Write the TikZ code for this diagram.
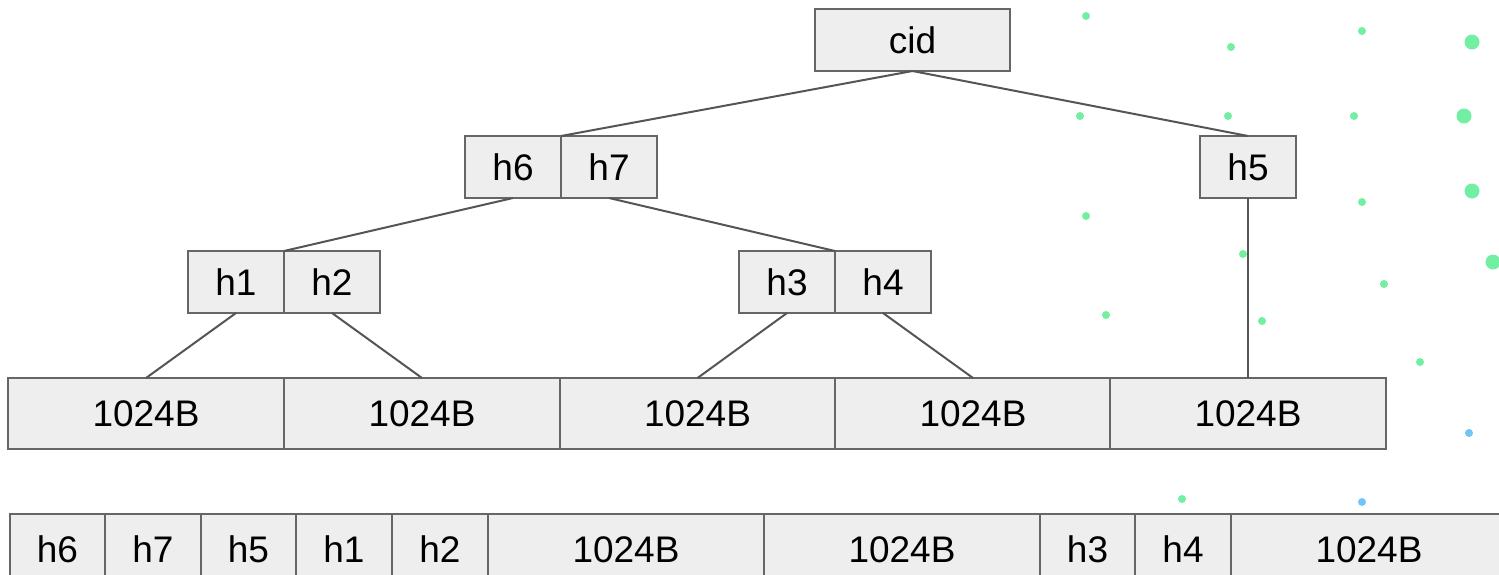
\documentclass[tikz,border=0pt]{standalone}
\usepackage{fontspec}
\setmainfont{Liberation Sans}
\definecolor{boxfill}{HTML}{EEEEEE}
\definecolor{boxline}{HTML}{666666}
\definecolor{conn}{HTML}{555555}
\definecolor{dotg}{HTML}{72EFA2}
\definecolor{dotb}{HTML}{72C4F4}
\tikzset{
  box/.style={draw=boxline, fill=boxfill, line width=2pt, rectangle, inner sep=0pt, outer sep=0pt,
    minimum height=62pt, font=\fontsize{37}{44}\selectfont},
  hbox/.style={box, minimum width=96pt},
  dbox/.style={box, minimum width=276pt, minimum height=71pt},
  rbox/.style={box, minimum height=71pt},
  conn/.style={draw=conn, line width=2pt},
}
\begin{document}
\begin{tikzpicture}[x=1pt,y=-1pt]
\useasboundingbox (0,0) rectangle (1499,574);
\clip (0,0) rectangle (1499,574);
% dots
\foreach \px/\py in {1086/16,1231/47,1362/31,1080/116,1228/116,1354/116,1086/216,1362/202,1243/254,1384/284,1106/315,1262/321,1420/362,1182/499}
  \fill[dotg] (\px,\py) circle[radius=4pt];
\foreach \px/\py in {1472/42,1464/116,1472/191,1493/262}
  \fill[dotg] (\px,\py) circle[radius=7.5pt];
\foreach \px/\py in {1469/433,1362/502}
  \fill[dotb] (\px,\py) circle[radius=4pt];
% tree
\node[box, minimum width=195pt] (cid) at (912.5,40) {cid};
\node[hbox] (h6) at (513,167) {h6};
\node[hbox] (h7) at (609,167) {h7};
\node[hbox] (h5) at (1248,167) {h5};
\node[hbox] (h1) at (236,282) {h1};
\node[hbox] (h2) at (332,282) {h2};
\node[hbox] (h3) at (787,282) {h3};
\node[hbox] (h4) at (883,282) {h4};
\node[dbox] (b1) at (146,413.5) {1024B};
\node[dbox] (b2) at (422,413.5) {1024B};
\node[dbox] (b3) at (697.5,413.5) {1024B};
\node[dbox] (b4) at (973,413.5) {1024B};
\node[dbox, minimum width=276pt] (b5) at (1248,413.5) {1024B};
% connectors
\draw[conn] (cid.south) -- (h6.north east);
\draw[conn] (cid.south) -- (h5.north);
\draw[conn] (h6.south) -- (h1.north east);
\draw[conn] (h7.south) -- (h3.north east);
\draw[conn] (h1.south) -- (b1.north);
\draw[conn] (h2.south) -- (b2.north);
\draw[conn] (h3.south) -- (b3.north);
\draw[conn] (h4.south) -- (b4.north);
\draw[conn] (h5.south) -- (b5.north);
% bottom serialized row
\node[rbox, minimum width=95pt] (r1) at (57.5,549.5) {h6};
\node[rbox, minimum width=96pt] (r2) at (153,549.5) {h7};
\node[rbox, minimum width=95pt] (r3) at (248.5,549.5) {h5};
\node[rbox, minimum width=96pt] (r4) at (344,549.5) {h1};
\node[rbox, minimum width=96pt] (r5) at (440,549.5) {h2};
\node[rbox, minimum width=276pt] (r6) at (626,549.5) {1024B};
\node[rbox, minimum width=276pt] (r7) at (902,549.5) {1024B};
\node[rbox, minimum width=95pt] (r8) at (1087.5,549.5) {h3};
\node[rbox, minimum width=96pt] (r9) at (1183,549.5) {h4};
\node[rbox, minimum width=276pt] (r10) at (1369,549.5) {1024B};
\end{tikzpicture}
\end{document}
